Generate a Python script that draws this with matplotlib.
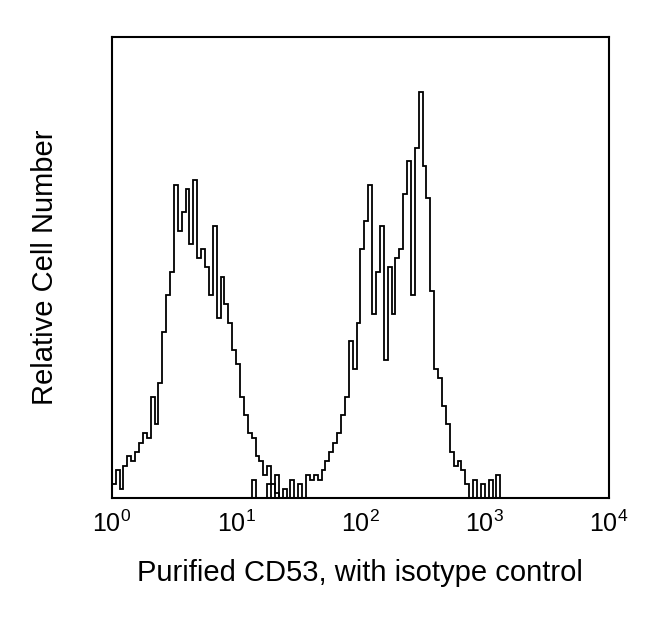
import numpy as np
import matplotlib
matplotlib.use("Agg")
import matplotlib.pyplot as plt

# Histograma de citometria: 128 canales en 4 decadas
n_canales = 128
decadas = 4

# Cuentas relativas (0-100) por canal
isotipo = [3, 6, 2, 7, 9, 8, 10, 12, 14, 13,
           22, 16, 25, 36, 44, 49, 68, 58, 62, 67,
           55, 69, 52, 54, 50, 44, 59, 39, 48, 42,
           38, 32, 29, 22, 18, 14, 13, 9, 8, 5,
           7, 3, 1, 0, 0, 0, 0, 0, 0, 0,
           0, 0, 0, 0, 0, 0, 0, 0, 0, 0,
           0, 0, 0, 0, 0, 0, 0, 0, 0, 0,
           0, 0, 0, 0, 0, 0, 0, 0, 0, 0,
           0, 0, 0, 0, 0, 0, 0, 0, 0, 0,
           0, 0, 0, 0, 0, 0, 0, 0, 0, 0,
           0, 0, 0, 0, 0, 0, 0, 0, 0, 0,
           0, 0, 0, 0, 0, 0, 0, 0, 0, 0,
           0, 0, 0, 0, 0, 0, 0, 0]

cd53 = [0, 0, 0, 0, 0, 0, 0, 0, 0, 0,
        0, 0, 0, 0, 0, 0, 0, 0, 0, 0,
        0, 0, 0, 0, 0, 0, 0, 0, 0, 0,
        0, 0, 0, 0, 0, 0, 4, 0, 0, 0,
        3, 0, 5, 0, 2, 0, 4, 0, 3, 0,
        5, 4, 5, 4, 6, 8, 10, 12, 14, 18,
        22, 34, 28, 38, 54, 60, 68, 40, 49, 59,
        30, 50, 40, 52, 54, 66, 73, 44, 76, 88,
        72, 65, 45, 28, 26, 20, 16, 10, 7, 8,
        6, 3, 0, 4, 0, 3, 0, 4, 0, 5,
        0, 0, 0, 0, 0, 0, 0, 0, 0, 0,
        0, 0, 0, 0, 0, 0, 0, 0, 0, 0,
        0, 0, 0, 0, 0, 0, 0, 0]

etiquetas_x = [r'$10^0$', r'$10^1$', r'$10^2$', r'$10^3$', r'$10^4$']

plt.rcParams['font.family'] = ['Liberation Sans', 'DejaVu Sans']
plt.rcParams['mathtext.fontset'] = 'custom'
plt.rcParams['mathtext.rm'] = 'Liberation Sans'

bordes = 10 ** np.linspace(0, decadas, n_canales + 1)

fig = plt.figure(figsize=(6.5, 6.22), dpi=100)
ax = fig.add_axes([0.172, 0.1994, 0.765, 0.7411])

for cuentas in (isotipo, cd53):
    ax.stairs(cuentas, bordes, color='black', linewidth=1.3)

ax.set_xscale('log')
ax.set_xlim(1, 1e4)
ax.set_ylim(0, 100)
ax.set_xticks([1, 10, 100, 1000, 10000])
ax.set_xticklabels(etiquetas_x)
ax.minorticks_off()
ax.set_yticks([])
ax.tick_params(axis='x', length=0, labelsize=18, pad=9)
for s in ax.spines.values():
    s.set_linewidth(1.5)

ax.set_xlabel('Purified CD53, with isotype control', fontsize=21, labelpad=16)
ax.set_ylabel('Relative Cell Number', fontsize=21, labelpad=38)

fig.savefig('out.png', dpi=100)
